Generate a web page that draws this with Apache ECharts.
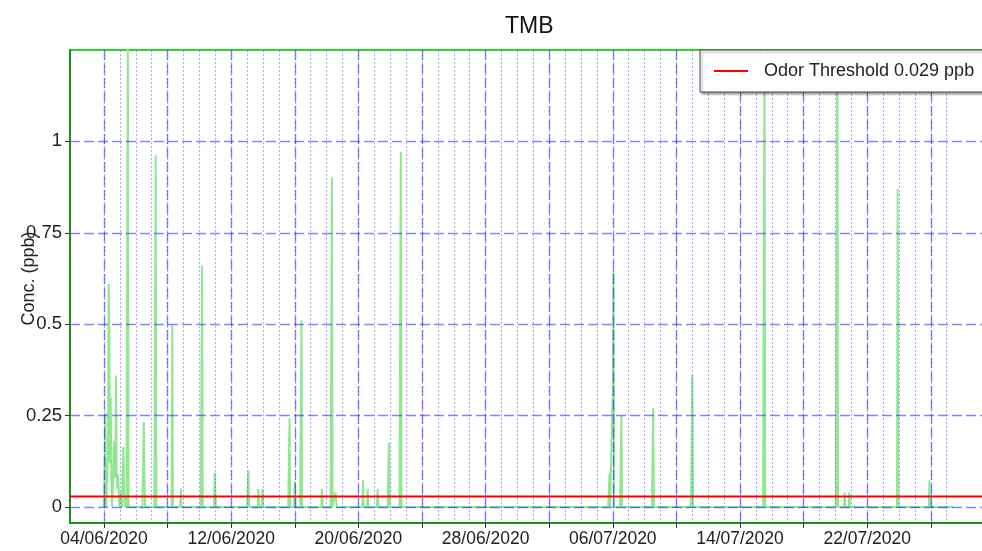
<!DOCTYPE html>
<html><head><meta charset="utf-8">
<script src="https://cdn.jsdelivr.net/npm/echarts@6/dist/echarts.min.js"></script>
<style>html,body{margin:0;padding:0;background:#fff}#c{width:982px;height:551px}</style>
</head><body><div id="c"></div>
<script>
// ---------- data ----------
const chartTitle = 'TMB';
const yAxisName = 'Conc. (ppb)';
const thresholdName = 'Odor Threshold 0.029 ppb';
const thresholdValue = 0.029;

const baseTime = '2020-06-04 00:00';
const axisStart = '2020-06-01 20:38';
const axisEnd = '2020-07-29 09:50';
const dataStart = '2020-06-04 00:00';
const dataEnd = '2020-07-27 10:00';

const yTickValues = [0, 0.25, 0.5, 0.75, 1];
const xLabelDates = ['04/06/2020', '12/06/2020', '20/06/2020', '28/06/2020', '06/07/2020', '14/07/2020', '22/07/2020'];
const xTickDates = ['04/06/2020', '08/06/2020', '12/06/2020', '16/06/2020', '20/06/2020', '24/06/2020', '28/06/2020',
  '02/07/2020', '06/07/2020', '10/07/2020', '14/07/2020', '18/07/2020', '22/07/2020', '26/07/2020'];
const xMinorFirst = '04/06/2020';
const xMinorLast = '27/07/2020';

// hourly concentration episodes: start time + consecutive hourly values (ppb)
const spikeStart = [
  '2020-06-04 02:00', '2020-06-04 06:00', '2020-06-04 14:00', '2020-06-05 02:00', '2020-06-05 05:00',
  '2020-06-05 09:00', '2020-06-05 11:00', '2020-06-06 11:00', '2020-06-07 05:00', '2020-06-08 07:00',
  '2020-06-08 20:00', '2020-06-10 03:00', '2020-06-10 23:00', '2020-06-13 01:00', '2020-06-13 17:00',
  '2020-06-13 23:00', '2020-06-15 15:00', '2020-06-16 00:00', '2020-06-16 09:00', '2020-06-17 17:00',
  '2020-06-18 07:00', '2020-06-18 13:00', '2020-06-20 07:00', '2020-06-20 14:00', '2020-06-21 05:00',
  '2020-06-21 21:00', '2020-06-22 15:00', '2020-07-05 18:00', '2020-07-06 00:00', '2020-07-06 12:00',
  '2020-07-08 12:00', '2020-07-10 23:00', '2020-07-15 12:00', '2020-07-20 02:00', '2020-07-20 14:00',
  '2020-07-20 21:00', '2020-07-23 22:00', '2020-07-25 22:00'
];
const spikeValues = [
  [0.26], [0.14, 0.61, 0.48, 0.12, 0.30, 0.10], [0.09, 0.18, 0.17, 0.08, 0.36, 0.09, 0.05, 0.09, 0.06], [0.04], [0.165, 0.08],
  [0.03], [0.71, 1.30], [0.115, 0.233, 0.08], [0.48, 0.962], [0.497],
  [0.05], [0.33, 0.66], [0.094, 0.045], [0.06, 0.10], [0.05],
  [0.05], [0.12, 0.243], [0.07], [0.257, 0.511], [0.05],
  [0.45, 0.902], [0.04, 0.03], [0.073], [0.05], [0.05],
  [0.087, 0.175], [0.49, 0.972], [0.045, 0.092], [0.325, 0.647], [0.128, 0.25],
  [0.136, 0.271], [0.178, 0.36], [0.715, 1.30], [0.715, 1.30], [0.04],
  [0.04], [0.87], [0.073]
];

// ---------- helpers ----------
const DAY = 86400000;
function parseIso(s) {
  const [d, t] = s.split(' ');
  const [Y, M, D] = d.split('-').map(Number);
  const [h, m] = t.split(':').map(Number);
  return Date.UTC(Y, M - 1, D, h, m);
}
function parseDmy(s) {
  const [D, M, Y] = s.split('/').map(Number);
  return Date.UTC(Y, M - 1, D);
}
const base = parseIso(baseTime);
const isoDays = s => (parseIso(s) - base) / DAY;
const dmyDays = s => (parseDmy(s) - base) / DAY;
function fmtDays(v) {
  const d = new Date(base + Math.round(v * DAY));
  const p = n => String(n).padStart(2, '0');
  return p(d.getUTCDate()) + '/' + p(d.getUTCMonth() + 1) + '/' + d.getUTCFullYear();
}

const xMin = isoDays(axisStart), xMax = isoDays(axisEnd);
const labelDays = xLabelDates.map(dmyDays);
const tickDays = xTickDates.map(dmyDays);
const minorDays = [];
for (let d = dmyDays(xMinorFirst); d <= dmyDays(xMinorLast); d += 1) minorDays.push(d);

const H = 1 / 24;
const seriesData = [[isoDays(dataStart), 0]];
spikeStart.forEach((s, i) => {
  const t0 = isoDays(s);
  seriesData.push([t0 - H, 0]);
  spikeValues[i].forEach((v, k) => seriesData.push([t0 + k * H, v]));
  seriesData.push([t0 + spikeValues[i].length * H, 0]);
});
seriesData.push([isoDays(dataEnd), 0]);

const FONT = 'Liberation Sans, Arial, Helvetica, sans-serif';
const majorLine = { color: 'rgba(30,30,255,0.55)', width: 1.4, type: [10, 4] };
const minorLine = { color: 'rgba(60,60,255,0.45)', width: 1, type: [2, 2] };
const darkGreen = '#1f8f1f';

const chart = echarts.init(document.getElementById('c'), null, { renderer: 'canvas' });
chart.setOption({
  animation: false,
  backgroundColor: '#fff',
  textStyle: { fontFamily: FONT },
  title: { text: chartTitle, left: 500, top: 10, textStyle: { fontSize: 23, fontWeight: 'normal', color: '#111', fontFamily: FONT } },
  legend: {
    left: 700, top: 50, orient: 'horizontal',
    backgroundColor: '#fff', borderColor: '#444', borderWidth: 1,
    shadowColor: 'rgba(0,0,0,0.35)', shadowOffsetX: 2, shadowOffsetY: 2, shadowBlur: 2,
    padding: [12, 40, 12, 14],
    icon: 'rect', itemWidth: 34, itemHeight: 2,
    textStyle: { fontSize: 18, color: '#222', fontFamily: FONT, padding: [0, 0, 0, 11] },
    data: [thresholdName]
  },
  grid: [
    { left: 70, right: -3, top: 50, bottom: 44, show: false, containLabel: false, outerBoundsMode: 'none' },
    { left: 70, right: -3, top: 50, bottom: 28, show: true, borderColor: '#22dd22', borderWidth: 2, backgroundColor: 'transparent', containLabel: false, outerBoundsMode: 'none' }
  ],
  xAxis: [
    { type: 'value', gridIndex: 0, min: xMin, max: xMax, show: false },
    {
      type: 'value', gridIndex: 1, min: xMin, max: xMax, position: 'bottom', z: 3,
      axisLine: { show: true, onZero: false, lineStyle: { color: darkGreen, width: 2 } },
      axisTick: { show: true, customValues: tickDays, length: 5, lineStyle: { color: '#333' } },
      axisLabel: { show: true, customValues: labelDays, formatter: fmtDays, fontSize: 17.5, color: '#222', margin: 7, fontFamily: FONT },
      splitLine: { show: true, lineStyle: majorLine }
    },
    {
      type: 'value', gridIndex: 1, min: xMin, max: xMax, position: 'bottom', z: 3,
      axisLine: { show: false },
      axisTick: { show: false, customValues: minorDays },
      axisLabel: { show: false, customValues: minorDays },
      splitLine: { show: true, lineStyle: minorLine }
    }
  ],
  yAxis: [
    {
      type: 'value', gridIndex: 0, min: 0, max: 1.25, z: 3,
      name: yAxisName, nameLocation: 'middle', nameGap: 32, nameMoveOverlap: false,
      nameTextStyle: { fontSize: 18, color: '#222', fontFamily: FONT },
      axisLine: { show: false, onZero: false },
      axisTick: { show: true, customValues: yTickValues, length: 5, lineStyle: { color: '#333' } },
      axisLabel: { show: true, customValues: yTickValues, fontSize: 18.5, color: '#222', margin: 8, fontFamily: FONT },
      splitLine: { show: true, lineStyle: majorLine }
    },
    {
      type: 'value', gridIndex: 1, min: 0, max: 1, z: 3,
      axisLine: { show: true, onZero: false, lineStyle: { color: darkGreen, width: 2 } },
      axisTick: { show: false }, axisLabel: { show: false }, splitLine: { show: false }
    }
  ],
  series: [
    {
      name: 'TMB', type: 'line', xAxisIndex: 0, yAxisIndex: 0, z: 2,
      data: seriesData, showSymbol: false, symbol: 'none',
      lineStyle: { color: '#8fe88f', width: 2 }, itemStyle: { color: '#8fe88f' }
    },
    {
      name: thresholdName, type: 'line', xAxisIndex: 0, yAxisIndex: 0, z: 5,
      data: [[xMin, thresholdValue], [xMax, thresholdValue]], symbol: 'none',
      lineStyle: { color: '#ff0000', width: 2 }, itemStyle: { color: '#ff0000' }
    }
  ]
});
</script></body></html>
